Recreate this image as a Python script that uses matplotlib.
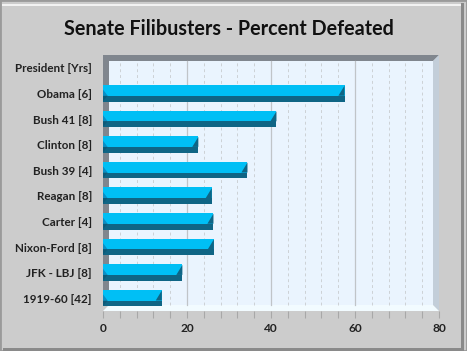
import numpy as np
import matplotlib
matplotlib.use('Agg')
import matplotlib.pyplot as plt
from matplotlib.patches import Polygon, Rectangle

# Data, bottom to top as drawn
labels = ['1919-60 [42]', 'JFK - LBJ [8]', 'Nixon-Ford [8]', 'Carter [4]', 'Reagan [8]',
          'Bush 39 [4]', 'Clinton [8]', 'Bush 41 [8]', 'Obama [6]', 'President [Yrs]']
values = [14.0, 18.9, 26.4, 26.3, 25.9, 34.4, 22.7, 41.3, 57.5, 0]
title = 'Senate Filibusters - Percent Defeated'

LIGHT = '#00bff5'
DARK = '#0f6585'
MID = '#0c8ec4'
WALL = '#eaf4fe'
SIDE = '#80868e'
FONT = 'Lato'

W, H = 467, 351
fig = plt.figure(figsize=(W / 100, H / 100), dpi=100)
fig.patch.set_facecolor('#cccccc')

# bevelled frame
fig.add_artist(Rectangle((0, 0), 1, 1, transform=fig.transFigure, fill=False,
                         edgecolor='#9a9a9a', linewidth=2))
fig.add_artist(Rectangle((3 / W, 0), 1 - 6 / W, 3 / H, transform=fig.transFigure,
                         facecolor='#8a8a8a', edgecolor='none'))
fig.add_artist(Rectangle((1 - 6 / W, 0), 3 / W, 1 - 3 / H, transform=fig.transFigure,
                         facecolor='#8a8a8a', edgecolor='none'))
fig.add_artist(Rectangle((2 / W, 1 - 6 / H), 1 - 8 / W, 2 / H, transform=fig.transFigure,
                         facecolor='#f2f2f2', edgecolor='none'))

ax = fig.add_axes([103 / W, 1 - 311 / H, 336 / W, 256 / H])
ax.set_xlim(0, 80)
ax.set_ylim(-0.5, len(labels) - 0.5)
ax.set_facecolor('none')

# px -> data unit helpers
ux = 80 / 336
uy = 10 / 256
dx, dy = 6 * ux, 6 * uy
y0, y1 = -0.5, len(labels) - 0.5

# back wall, side walls, floor
ax.add_patch(Rectangle((dx, y0 + dy), 80 - 2 * dx, y1 - y0 - 2 * dy, facecolor=WALL,
                       edgecolor='none', zorder=0))
ax.add_patch(Polygon([(0, y1), (80, y1), (80 - dx, y1 - dy), (dx, y1 - dy)],
                     facecolor=SIDE, edgecolor='none', zorder=0))
ax.add_patch(Rectangle((0, y0 + dy), dx, y1 - y0 - dy, facecolor=SIDE,
                       edgecolor='none', zorder=0))
ax.add_patch(Polygon([(80 - dx, y1 - dy), (80, y1), (80, y0), (80 - dx, y0 + dy)],
                     facecolor='#c3ced9', edgecolor='none', zorder=0))
ax.add_patch(Polygon([(0, y0), (80, y0), (80 - dx, y0 + dy), (dx, y0 + dy)],
                     facecolor='#f2fbff', edgecolor='none', zorder=0))

# gridlines on the back wall
for x in np.arange(4, 80, 4):
    major = x % 20 == 0
    ax.plot([x, x], [y0 + dy, y1 - dy], color='#c0c4c8' if major else '#cdd1d5',
            lw=0.9 if major else 0.7, ls='-' if major else (0, (3, 3)), zorder=1)

# bars
for i, v in enumerate(values):
    if v <= 0:
        continue
    ax.barh(i - 0.09, v, height=0.418, align='edge', color=LIGHT, zorder=3)
    ax.barh(i - 0.324, v, height=0.234, align='edge', color=DARK, zorder=3)
    ax.add_patch(Polygon([(v, i + 0.30), (v - 1.45, i - 0.09), (v, i - 0.09)],
                         facecolor=DARK, edgecolor='none', zorder=4))
    ax.add_patch(Polygon([(0, i + 0.15), (1.1, i - 0.09), (0, i - 0.09)],
                         facecolor=MID, edgecolor='none', zorder=4))
    ax.add_patch(Polygon([(0, i - 0.09), (1.1, i - 0.09), (0, i - 0.3)],
                         facecolor='#0d5a78', edgecolor='none', zorder=4))

for s in ax.spines.values():
    s.set_visible(False)
ax.set_xticks([0, 20, 40, 60, 80])
ax.set_xticks(np.arange(0, 81, 4), minor=True)
ax.tick_params(axis='x', which='both', length=5, width=0.8, color='#a8a8a8',
               labelsize=8.6, pad=4)
ax.tick_params(axis='y', length=0, labelsize=8.4, pad=8)
ax.set_yticks(range(len(labels)))
ax.set_yticklabels(labels)
for t in ax.get_xticklabels() + ax.get_yticklabels():
    t.set_fontweight('bold')
    t.set_color('#222222')
    t.set_fontfamily(FONT)

fig.text(229 / W, 1 - 29 / H, title, ha='center', va='center', fontsize=14.2,
         fontweight='bold', fontfamily=FONT, color='#111111')

fig.savefig('out.png', dpi=100, facecolor=fig.get_facecolor())
